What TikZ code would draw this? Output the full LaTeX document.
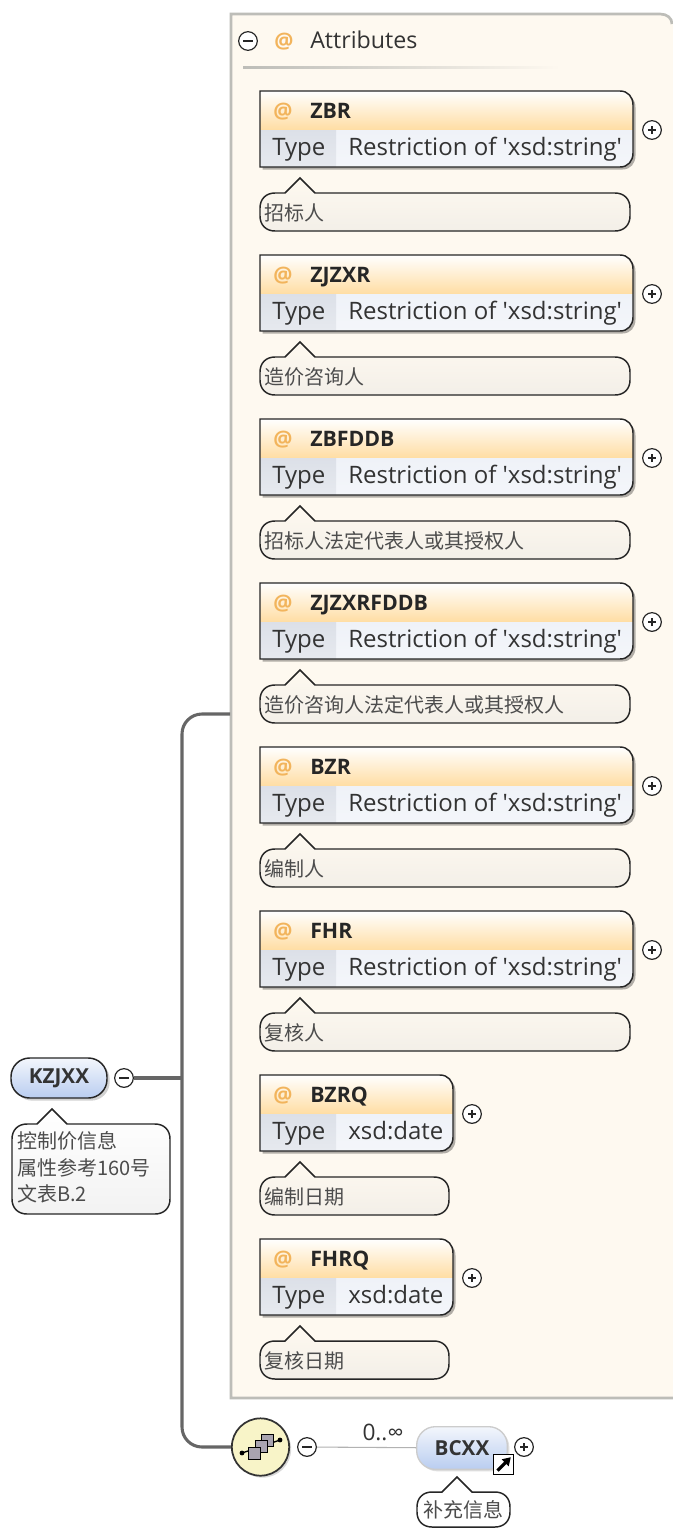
\documentclass[tikz,border=0pt]{standalone}
\usepackage{fontspec}
\newfontfamily\uifont{Open Sans}
\newfontfamily\cjk{Noto Sans CJK SC}
\usetikzlibrary{shadows,calc,arrows.meta}
\definecolor{panelfill}{HTML}{FEF9F0}
\definecolor{panelline}{HTML}{BDBDB8}
\definecolor{headorange}{HTML}{FFDDA3}
\definecolor{typegrey}{HTML}{DCE0E8}
\definecolor{typelight}{HTML}{EFF2F8}
\definecolor{noteend}{HTML}{F3EFE8}
\definecolor{trunk}{HTML}{666666}
\definecolor{atcolor}{HTML}{F2B45C}
\definecolor{bluehi}{HTML}{F3F6FC}
\definecolor{bluelo}{HTML}{B9CDF0}
\definecolor{compfill}{HTML}{F8F4C8}
\definecolor{compsquare}{HTML}{A9A4B0}
\tikzset{
  x=0.75pt,y=-0.75pt,
  outline/.style={draw=black!85,line width=1.1pt},
  trunkline/.style={draw=trunk,line width=2.3pt},
  toggle/.style={circle,draw=black!85,line width=0.9pt,fill=white,minimum size=14pt,inner sep=0pt},
  minussign/.style={toggle,path picture={\draw[line width=0.9pt] (path picture bounding box.center) ++(-3.5pt,0) -- ++(7pt,0);}},
  plussign/.style={toggle,path picture={\draw[line width=0.9pt] (path picture bounding box.center) ++(-3pt,0) -- ++(6pt,0) ++(-3pt,-3pt) -- ++(0,6pt);}},
  nametext/.style={anchor=base west,inner sep=0pt,font=\uifont\fontsize{16}{18}\selectfont\bfseries,text=black!85},
  typetext/.style={anchor=base west,inner sep=0pt,font=\uifont\fontsize{18}{20}\selectfont,text=black!80},
  atsign/.style={anchor=base,inner sep=0pt,font=\uifont\fontsize{16}{18}\selectfont\bfseries,text=atcolor},
  notetext/.style={anchor=west,inner sep=0pt,font=\cjk\fontsize{15}{18}\selectfont,text=black!70},
  elemtext/.style={font=\uifont\fontsize{15.5}{18}\selectfont\bfseries,text=black!80},
}
% rounded box with square left side
\newcommand{\attrpath}[1]{(260,0) -- (#1-13,0) .. controls (#1-5,0) and (#1,6) .. (#1,14) -- (#1,62) .. controls (#1,70) and (#1-5,76) .. (#1-13,76) -- (260,76) -- cycle}
% speech-bubble outline: left, top, right, bottom, apex x, radius
\newcommand{\notepath}[6]{(#1+#6,#2) -- (#5-15,#2) -- (#5,#2-15) -- (#5+15,#2) -- (#3-#6,#2) .. controls (#3-#6*0.4,#2) and (#3,#2+#6*0.4) .. (#3,#2+#6) -- (#3,#4-#6) .. controls (#3,#4-#6*0.4) and (#3-#6*0.4,#4) .. (#3-#6,#4) -- (#1+#6,#4) .. controls (#1+#6*0.4,#4) and (#1,#4-#6*0.4) .. (#1,#4-#6) -- (#1,#2+#6) .. controls (#1,#2+#6*0.4) and (#1+#6*0.4,#2) .. (#1+#6,#2) -- cycle}
% id, top, box right, name, type, note, note right
\newcommand{\attrblock}[7]{%
\begin{scope}[shift={(0,#2)}]
  \fill[black,opacity=.30] [shift={(2.5,2.5)}] \attrpath{#3};
  \begin{scope}
    \clip \attrpath{#3};
    \shade[top color=white,bottom color=headorange] (260,0) rectangle (#3,39);
    \shade[top color=typelight,bottom color=typelight!70!white] (336,39) rectangle (#3,76);
    \shade[top color=typegrey,bottom color=typegrey!70!white] (260,39) rectangle (336,76);
  \end{scope}
  \draw[outline] \attrpath{#3};
  \node[atsign] (#1at) at (283,27) {@};
  \node[nametext] (#1name) at (310,27) {#4};
  \node[typetext] (#1type) at (272,64) {Type};
  \node[typetext] (#1value) at (348,64) {#5};
  \node[plussign] (#1plus) at (#3+19,39) {};
  \fill[noteend] \notepath{260}{102}{#7}{140}{300}{15};
  \shade[top color=panelfill,bottom color=noteend] \notepath{260}{102}{#7}{140}{300}{15};
  \draw[outline] \notepath{260}{102}{#7}{140}{300}{15};
  \node[notetext] (#1note) at (264,122) {#6};
\end{scope}}
\begin{document}
\begin{tikzpicture}
\useasboundingbox (0,0) rectangle (673,1528);
\fill[white] (0,0) rectangle (673,1528);
% attributes panel
\path[fill=panelfill] (231,14) -- (660,14) .. controls (667,14) and (673,18) .. (673,24) -- (673,1398) -- (231,1398) -- cycle;
\draw[draw=panelline,line width=2pt] (673,1398) -- (231,1398) -- (231,14) -- (660,14) .. controls (667,14) and (672,18) .. (672,24);
\coordinate (paneljoin) at (230,714);
\node[minussign] (attrminus) at (248,41) {};
\node[atsign] (attrat) at (284,48) {@};
\node[typetext,font=\uifont\fontsize{17.4}{20}\selectfont] (attrtitle) at (310,48) {Attributes};
\shade[left color=panelline,right color=panelfill] (243,66.5) rectangle (560,68);
\attrblock{a}{91}{633}{ZBR}{Restriction of 'xsd:string'}{招标人}{630}
\attrblock{b}{255}{633}{ZJZXR}{Restriction of 'xsd:string'}{造价咨询人}{630}
\attrblock{c}{419}{633}{ZBFDDB}{Restriction of 'xsd:string'}{招标人法定代表人或其授权人}{630}
\attrblock{d}{583}{633}{ZJZXRFDDB}{Restriction of 'xsd:string'}{造价咨询人法定代表人或其授权人}{630}
\attrblock{e}{747}{633}{BZR}{Restriction of 'xsd:string'}{编制人}{630}
\attrblock{f}{911}{633}{FHR}{Restriction of 'xsd:string'}{复核人}{630}
\attrblock{g}{1075}{453}{BZRQ}{xsd:date}{编制日期}{449}
\attrblock{h}{1239}{453}{FHRQ}{xsd:date}{复核日期}{449}
% root element
\node[outline,elemtext,rounded corners=14pt,minimum width=72pt,minimum height=30pt,inner sep=0pt,top color=bluehi,bottom color=bluelo,drop shadow={shadow xshift=2pt,shadow yshift=-2pt,opacity=.35}] (root) at (59,1078) {KZJXX};
\node[minussign] (rootminus) at (124,1078) {};
\coordinate (junction) at (182,1078);
\fill[white] \notepath{12}{1124}{170}{1214}{52}{15};
\shade[top color=white,bottom color=black!5] \notepath{12}{1124}{170}{1214}{52}{15};
\draw[outline] \notepath{12}{1124}{170}{1214}{52}{15};
\node[notetext] (rootnote1) at (17,1141) {控制价信息};
\node[notetext] (rootnote2) at (17,1168) {属性参考160号};
\node[notetext] (rootnote3) at (17,1194) {文表B.2};
% compositor
\node[circle,draw=black!80,line width=1.3pt,fill=compfill,minimum size=43pt,inner sep=0pt,drop shadow={shadow xshift=1.5pt,shadow yshift=-1.5pt,opacity=.3}] (comp) at (260.5,1447) {};
% trunk connectors
\draw[trunkline] (rootminus) -- (junction);
\draw[trunkline,rounded corners=15pt] (paneljoin) -| (junction) |- (comp.west);
% compositor icon
\draw[line width=1pt] (242,1453) -- (280,1440);
\fill (242,1453) circle (2.4) (280,1440) circle (2.4);
\foreach \cx/\cy in {267/1440,261/1446,254/1453}
  \draw[fill=compsquare,line width=.7pt] (\cx-6,\cy-6) rectangle (\cx+6,\cy+6);
% repeating element
\node[minussign] (compminus) at (307,1447) {};
\node[elemtext,draw=black!20,line width=1pt,rounded corners=14pt,minimum width=68pt,minimum height=32pt,inner sep=0pt,top color=bluehi,bottom color=bluelo,drop shadow={shadow xshift=1.5pt,shadow yshift=-1.5pt,opacity=.25}] (bcxx) at (462,1448) {BCXX};
\draw[draw=black!30,line width=.8pt] (compminus) -- (bcxx);
\node[inner sep=0pt,font=\uifont\fontsize{17}{20}\selectfont,text=black!80] (occurs) at (383,1432) {0..∞};
\node[plussign] (bcxxplus) at (524,1447) {};
\node[draw=black,line width=1pt,fill=white,minimum size=15pt,inner sep=0pt,
  path picture={\draw[-{Triangle[length=6pt,width=7pt]},line width=2.4pt] ($(path picture bounding box.center)+(-4.5pt,-4.5pt)$) -- ($(path picture bounding box.center)+(5.5pt,5.5pt)$);}] (linkicon) at (503.5,1464.5) {};
\fill[white] \notepath{417}{1492}{510}{1527}{457}{15};
\draw[outline] \notepath{417}{1492}{510}{1527}{457}{15};
\node[notetext,anchor=center] (bcxxnote) at (463.5,1510) {补充信息};
\end{tikzpicture}
\end{document}
